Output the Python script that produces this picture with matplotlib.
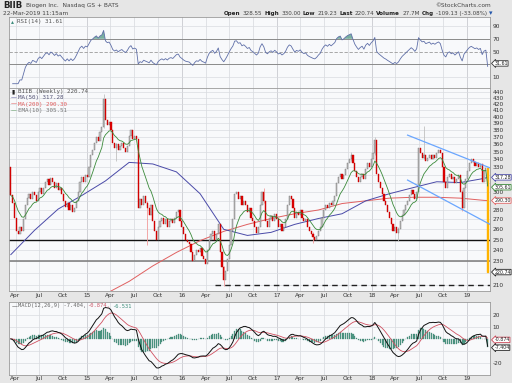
import numpy as np
import pandas as pd
import matplotlib
matplotlib.use("Agg")
import matplotlib.pyplot as plt
import matplotlib.dates as mdates
from matplotlib.ticker import FixedLocator, FuncFormatter, NullLocator
import matplotlib.transforms as mtrans

# ---------------- data (weekly) ----------------
close = [
    296, 288, 272, 258, 255, 262, 258, 270, 285, 293,
    298, 292, 300, 296, 290, 300, 305, 298,
    305, 312, 315, 308, 316, 312, 305, 310, 302, 305, 298,
    290, 283, 288, 280, 285, 278, 282, 290,
    300, 312, 318, 312, 320, 318, 330, 345,
    352, 362, 370, 365, 378, 385, 428, 395,
    388, 392, 380, 362, 355, 360, 352, 358, 362, 355, 350, 358, 372, 380, 368, 372, 368,
    282, 292, 285, 295, 288, 282, 275, 285, 268, 258, 250, 262,
    268, 272, 265, 270, 262, 268, 270, 266, 272, 278, 280,
    268, 262, 255, 250, 248, 246, 238, 230, 236, 240,
    238, 242, 235, 232, 228, 240, 250, 255, 258, 250, 255, 265,
    238, 225, 214, 222, 232, 245, 258, 270, 298, 300, 292, 295, 285, 290,
    285, 278, 282, 272, 268, 262, 256, 262, 285, 300, 290, 268,
    262, 270, 274, 268, 276, 270, 262, 265, 258, 262, 270,
    285, 295, 292, 282, 272,
    278, 275, 280, 272, 268, 270, 262, 258, 255, 252,
    250, 253, 258, 262, 272,
    280, 285, 282, 288, 285, 290, 295,
    310, 318, 322, 315, 320, 328, 335, 340, 345,
    335, 325, 318, 312, 318, 322, 315, 328, 335, 330,
    340, 348, 366, 322,
    312, 305, 298, 290, 285, 278, 272,
    265, 258, 262, 256, 260,
    268, 275, 280, 285, 290, 296, 302, 298, 292,
    300, 355, 348, 342, 345, 338, 342, 346, 340, 345, 342, 348, 352, 348,
    330, 312, 305, 318,
    322, 315, 318, 310, 315, 320, 300, 282, 305,
    315, 325, 335, 340, 336, 332, 335, 330, 334,
    312, 325, 328.55, 220.74,
]
first_open = 330.0
last_date = "2019-03-22"

# notable wicks (week index, low, high)
wick_idx = [51, 58, 75, 117, 139, 166, 187, 200, 213, 227, 248]
wick_lo = [383, 338, 245, 209, 288, 247, 338, 345, 249, 340, 279]
wick_hi = [436, 362, 290, 226, 305, 257, 350, 370, 262, 386, 302]

# moving averages (week index, value)
ma50_idx = [0, 13, 26, 39, 52, 65, 78, 91, 104, 117, 130, 143, 156, 169, 182, 195, 208, 221, 234, 247, 260, 262]
ma50_val = [236, 259, 281, 296, 313, 336, 334, 324, 298, 260, 254, 257, 265, 271, 276, 290, 298, 305, 312, 311, 316, 317.28]
ma200_idx = [52, 65, 78, 91, 104, 117, 130, 143, 156, 169, 182, 195, 208, 221, 234, 247, 260, 262]
ma200_val = [203, 213, 226, 238, 249, 258, 265, 271, 276, 280, 287, 290, 293, 294, 294, 293, 290.5, 290.3]

# horizontal levels and trend channel
level_prices = [250, 230, 210]
dash_start = "2016-05-06"
trend_dates = ["2018-05-18", "2019-03-31"]
trend_upper = [373, 329]
trend_lower = [314, 265]

price_ticks = [210, 230, 240, 250, 260, 270, 280, 300, 330, 340, 350, 360, 370, 380, 390, 400, 410, 420, 430, 440]
rsi_ticks = [90, 70, 50, 10]
macd_ticks = [20, 10, -20]

# right-hand value markers, as printed on the chart
price_marks = [("317.28", 317.28, "#4a4aa8"), ("305.61", 305.51, "#3a8a3a"),
               ("290.30", 290.30, "#e06060"), ("220.74", 220.74, "#222222")]
rsi_mark = ("31.61", 31.61)
macd_marks = [("-0.874", -0.874, "#cc4455"), ("-7.404", -7.404, "#222222")]

# ---------------- derived through pandas ----------------
dates = pd.date_range(end=last_date, periods=len(close), freq="W-FRI")
c = pd.Series(close, index=dates, dtype=float)
o = c.shift(1)
o.iloc[0] = first_open
ema10 = c.ewm(span=10, adjust=False).mean()
delta = c.diff()
gain = delta.clip(lower=0).ewm(alpha=1 / 14, adjust=False).mean()
loss = (-delta.clip(upper=0)).ewm(alpha=1 / 14, adjust=False).mean()
rsi = 100 - 100 / (1 + gain / loss)
macd = c.ewm(span=12, adjust=False).mean() - c.ewm(span=26, adjust=False).mean()
signal = macd.ewm(span=9, adjust=False).mean()
hist = macd - signal

# ---------------- figure ----------------
W, H = 512, 383
fig = plt.figure(figsize=(W / 100, H / 100), dpi=100, facecolor="#e6e6e6")
plt.rcParams["font.family"] = ["DejaVu Sans"]
FS = 4.2
PANEL_BG = "#f8f9fb"
GRID = "#d9dbe0"
TXT = "#333333"


def fx(x):
    return x / W


def fy(y):
    return 1 - y / H


L, R = 9, 490
ax_rsi = fig.add_axes([fx(L), fy(88), (R - L) / W, (88 - 17) / H])
ax_p = fig.add_axes([fx(L), fy(291), (R - L) / W, (291 - 88) / H], sharex=ax_rsi)
ax_m = fig.add_axes([fx(L), fy(374.5), (R - L) / W, (374.5 - 302) / H], sharex=ax_rsi)

xmin, xmax = pd.Timestamp("2014-03-07"), pd.Timestamp("2019-03-31")
quarters = pd.date_range("2014-04-01", "2019-01-01", freq="QS")

for ax in (ax_rsi, ax_p, ax_m):
    ax.set_facecolor(PANEL_BG)
    for s in ax.spines.values():
        s.set_color("#9a9a9a")
        s.set_linewidth(0.6)
    for q in quarters:
        ax.axvline(q, color="#c4c6cc" if q.month == 1 else GRID, lw=0.55, zorder=0)
    ax.yaxis.tick_right()
    ax.tick_params(axis="y", length=0, pad=2, labelsize=FS, labelcolor=TXT)
    ax.tick_params(axis="x", length=0, pad=1.2, labelsize=FS, labelcolor=TXT)
    ax.set_xlim(xmin, xmax)

ax_p.xaxis.set_major_locator(FixedLocator(mdates.date2num(quarters)))
ax_p.xaxis.set_major_formatter(
    FuncFormatter(lambda v, p: mdates.num2date(v).strftime("%y") if mdates.num2date(v).month == 1
                  else mdates.num2date(v).strftime("%b")))
for ax in (ax_p, ax_m):
    ax.tick_params(axis="x", labelbottom=True)
ax_rsi.tick_params(axis="x", labelbottom=False)

# ---------------- RSI panel ----------------
ax_rsi.set_ylim(-6.7, 104)
for lv in (90, 10):
    ax_rsi.axhline(lv, color=GRID, lw=0.5, zorder=0)
ax_rsi.axhline(70, color="#8a8a8a", lw=0.7, zorder=1)
ax_rsi.axhline(30, color="#8a8a8a", lw=0.7, zorder=1)
ax_rsi.axhline(50, color="#9a9a9a", lw=0.6, ls=(0, (4, 2)), zorder=1)
ax_rsi.plot(dates, rsi, color="#5f6fa8", lw=0.6, zorder=3)
ax_rsi.fill_between(dates, rsi, 70, where=(rsi > 70), color="#5a9e8a", alpha=0.8, lw=0, interpolate=True)
ax_rsi.yaxis.set_major_locator(FixedLocator(rsi_ticks))
ax_rsi.yaxis.set_major_formatter(FuncFormatter(lambda v, p: f"{v:.0f}"))
ax_rsi.text(0.004, 0.93, "\u25B4", transform=ax_rsi.transAxes, fontsize=FS, color="#3a8a7a", va="center")
ax_rsi.text(0.017, 0.93, "RSI(14) 31.61", transform=ax_rsi.transAxes, fontsize=FS, color="#555555",
            va="center", family="DejaVu Sans Mono")

# ---------------- price panel ----------------
ax_p.set_yscale("log")
ax_p.set_ylim(205.3, 446.8)
for g in range(210, 450, 10):
    ax_p.axhline(g, color=GRID, lw=0.5, zorder=0)
ax_p.yaxis.set_major_locator(FixedLocator(price_ticks))
ax_p.yaxis.set_minor_locator(NullLocator())
ax_p.yaxis.set_major_formatter(FuncFormatter(lambda v, p: f"{v:.0f}"))
ax_p.yaxis.set_minor_formatter(FuncFormatter(lambda v, p: ""))

# levels
ax_p.axhline(level_prices[0], color="#111111", lw=1.0, zorder=2)
ax_p.axhline(level_prices[1], color="#7a7a7a", lw=1.1, zorder=2)
ax_p.hlines(level_prices[2], pd.Timestamp(dash_start), xmax, colors="#222222", lw=1.0,
            linestyles=(0, (4, 3)), zorder=2)

# moving averages
ax_p.plot(dates[ma200_idx], ma200_val, color="#e06060", lw=0.7, zorder=3)
ax_p.plot(dates[ma50_idx], ma50_val, color="#4a4aa8", lw=0.7, zorder=3)

# candles
up = c >= o
body_lo = np.minimum(o, c)
body_h = np.maximum(np.abs(c - o), 0.8)
for i in range(len(wick_idx)):
    k = wick_idx[i]
    col = "#c0c0c0" if up.iloc[k] else "#f29a9a"
    ax_p.vlines(dates[k], wick_lo[i], wick_hi[i], colors=col, lw=0.6, zorder=3)
ax_p.bar(dates[up.values], body_h[up.values], bottom=body_lo[up.values], width=4.6,
         color="#c4c4c4", edgecolor="#727272", lw=0.3, zorder=4)
dn = ~up.values
dn[-1] = False
ax_p.bar(dates[dn], body_h[dn], bottom=body_lo[dn], width=4.6,
         color="#e00000", edgecolor="#c00000", lw=0.3, zorder=4)
ax_p.bar(dates[-1:], body_h[-1:], bottom=body_lo[-1:], width=6,
         color="#e00000", edgecolor="#ffb300", lw=1.0, zorder=5)

ax_p.plot(dates, ema10, color="#3a8a3a", lw=0.6, zorder=6)

# trend channel
td = pd.to_datetime(trend_dates)
ax_p.plot(td, trend_upper, color="#6aa6ff", lw=0.9, zorder=6)
ax_p.plot(td, trend_lower, color="#6aa6ff", lw=0.9, zorder=6)

# legend
leg = [("\u25AE", "BIIB (Weekly) 220.74", "#222222", "#555555"),
       ("\u2014", "MA(50) 317.28", "#3a3a90", "#555577"),
       ("\u2014", "MA(200) 290.30", "#e03030", "#e06060"),
       ("\u2014", "EMA(10) 305.51", "#3a8a3a", "#777777")]
for j, (sym, txt, sc, tc) in enumerate(leg):
    yy = fy(91.5 + j * 6.4)
    fig.text(fx(11), yy, sym, fontsize=FS, color=sc, va="center")
    fig.text(fx(17.5), yy, txt, fontsize=FS, color=tc, va="center", family="DejaVu Sans Mono")

# ---------------- MACD panel ----------------
ax_m.set_ylim(-30, 31)
for g in (20, 10, -10, -20):
    ax_m.axhline(g, color=GRID, lw=0.5, zorder=0)
ax_m.bar(dates, hist, width=4.0, color="#4f9a86", edgecolor="#3f7f6e", lw=0.2, zorder=2)
ax_m.plot(dates, signal, color="#d05060", lw=0.6, zorder=3)
ax_m.plot(dates, macd, color="#111111", lw=0.7, zorder=4)
ax_m.yaxis.set_major_locator(FixedLocator(macd_ticks))
ax_m.yaxis.set_major_formatter(FuncFormatter(lambda v, p: f"{v:.0f}"))
ax_m.text(0.005, 0.93, "\u2014", transform=ax_m.transAxes, fontsize=FS, color="#222222", va="center")


def chain(host, pieces, x0, y0, gap=1.6):
    """Write text pieces one after the other, each starting where the previous ends."""
    prev = None
    for t, col, bold, fam, fs in pieces:
        kw = dict(fontsize=fs, color=col, fontweight="bold" if bold else "normal",
                  family=fam, va="center", ha="left", annotation_clip=False, zorder=20)
        if prev is None:
            prev = host.annotate(t, xy=(fx(x0), fy(y0)), xycoords="figure fraction", **kw)
        else:
            prev = host.annotate(t, xy=(1, 0.5), xycoords=prev, xytext=(gap, 0),
                                 textcoords="offset points", **kw)


MONO = "DejaVu Sans Mono"
chain(ax_m, [("MACD(12,26,9) -7.404,", "#666666", False, MONO, 3.9),
             ("-0.874,", "#cc5566", False, MONO, 3.9),
             ("-6.531", "#3f8f7c", False, MONO, 3.9)], 17.5, 306, gap=1.2)

# ---------------- right-hand markers ----------------
def mark(ax, val, txt, ec):
    tr = mtrans.blended_transform_factory(ax.transAxes, ax.transData)
    ax.text(1.009, val, txt, transform=tr, fontsize=3.4, color="#222222", va="center", ha="left",
            bbox=dict(boxstyle="larrow,pad=0.05", fc="white", ec=ec, lw=0.6), zorder=10, clip_on=False)


for t, v, col in price_marks:
    mark(ax_p, v, t, col)
mark(ax_rsi, rsi_mark[1], rsi_mark[0], "#333333")
for t, v, col in macd_marks:
    mark(ax_m, v, t, col)

# ---------------- header ----------------
fig.text(fx(3), fy(5.5), "BIIB", fontsize=6.2, fontweight="bold", color="#222222", va="center")
fig.text(fx(26), fy(5.5), "Biogen Inc.  Nasdaq GS + BATS", fontsize=FS, color="#444444", va="center")
fig.text(fx(3), fy(13.5), "22-Mar-2019 11:15am", fontsize=FS, color="#444444", va="center")
fig.text(fx(491), fy(5.5), "\u00A9StockCharts.com", fontsize=FS, color="#444444", va="center", ha="right")
S = "DejaVu Sans"
chain(ax_rsi, [("Open", "#222222", True, S, 4.1), ("328.55", "#444444", False, S, 4.1),
               ("High", "#222222", True, S, 4.1), ("330.00", "#444444", False, S, 4.1),
               ("Low", "#222222", True, S, 4.1), ("219.23", "#444444", False, S, 4.1),
               ("Last", "#222222", True, S, 4.1), ("220.74", "#444444", False, S, 4.1),
               ("Volume", "#222222", True, S, 4.1), ("27.7M", "#444444", False, S, 4.1),
               ("Chg", "#222222", True, S, 4.1), ("-109.13 (-33.08%)", "#444444", False, S, 4.1),
               ("\u25BE", "#2255aa", False, S, 5.0)], 224, 13.5, gap=1.5)

fig.savefig("out.png", dpi=100, facecolor=fig.get_facecolor())
